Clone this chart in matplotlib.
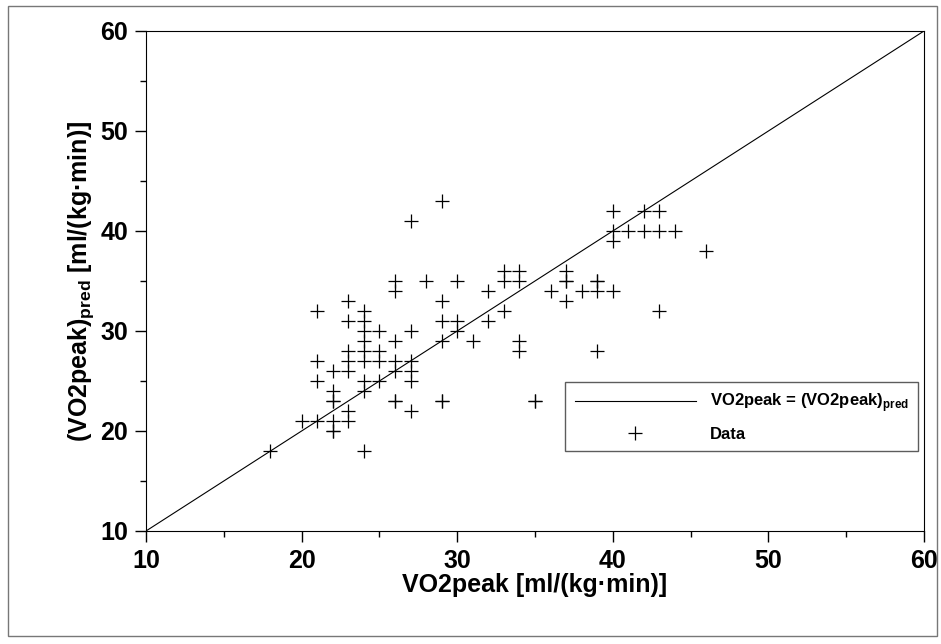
import numpy as np
import matplotlib.pyplot as plt
from matplotlib.patches import Rectangle
from matplotlib.ticker import MultipleLocator

plt.rcParams['font.family'] = ['Liberation Sans', 'DejaVu Sans']
plt.rcParams['mathtext.fontset'] = 'custom'
plt.rcParams['mathtext.bf'] = 'Liberation Sans:bold'
plt.rcParams['mathtext.rm'] = 'Liberation Sans'

vo2_meas = [18, 20,
            21, 21, 21, 21,
            22, 22, 22, 22, 22, 22, 22,
            23, 23, 23, 23, 23, 23, 23,
            24, 24, 24, 24, 24, 24, 24, 24, 24,
            25, 25, 25, 25,
            26, 26, 26, 26, 26, 26, 26,
            27, 27, 27, 27, 27, 27,
            28,
            29, 29, 29, 29, 29, 29,
            30, 30, 30,
            31,
            32, 32,
            33, 33, 33,
            34, 34, 34, 34,
            35, 35,
            36,
            37, 37, 37, 37,
            38,
            39, 39, 39, 39,
            40, 40, 40, 40,
            41,
            42, 42,
            43, 43, 43,
            44,
            46]
vo2_pred = [18, 21,
            32, 27, 25, 21,
            26, 24, 23, 23, 21, 20, 20,
            33, 31, 28, 27, 26, 22, 21,
            32, 31, 30, 29, 28, 27, 25, 24, 18,
            30, 28, 27, 25,
            35, 34, 29, 27, 26, 23, 23,
            41, 30, 27, 26, 25, 22,
            35,
            43, 33, 31, 29, 23, 23,
            35, 31, 30,
            29,
            34, 31,
            36, 35, 32,
            36, 35, 29, 28,
            23, 23,
            34,
            36, 35, 35, 33,
            34,
            35, 35, 34, 28,
            42, 40, 39, 34,
            40,
            42, 40,
            42, 40, 32,
            40,
            38]
identity = [10, 60]

W, H = 941, 644
fig = plt.figure(figsize=(W / 100, H / 100), dpi=100)
ax = fig.add_axes([146 / W, 1 - 531 / H, (924 - 146) / W, 500 / H])

ax.plot(identity, identity, color='black', lw=0.8, label=r'VO2peak = (VO2peak)$_{\mathbf{pred}}$')
ax.plot(vo2_meas, vo2_pred, ls='none', marker='+', ms=10, mew=0.9, color='black', label='Data')

ax.set_xlim(10, 60)
ax.set_ylim(10, 60)
ax.xaxis.set_major_locator(MultipleLocator(10))
ax.yaxis.set_major_locator(MultipleLocator(10))
ax.xaxis.set_minor_locator(MultipleLocator(5))
ax.yaxis.set_minor_locator(MultipleLocator(5))
ax.tick_params(which='major', direction='out', length=8, width=1, labelsize=18, pad=5)
ax.tick_params(which='minor', direction='out', length=4, width=1)
for lab in ax.get_xticklabels() + ax.get_yticklabels():
    lab.set_fontweight('bold')
for sp in ax.spines.values():
    sp.set_linewidth(0.8)

ax.set_xlabel('VO2peak [ml/(kg·min)]', fontsize=18, fontweight='bold', labelpad=0)
ax.set_ylabel(r'(VO2peak)$_{\mathbf{pred}}$ [ml/(kg·min)]', fontsize=18, fontweight='bold', labelpad=3)

leg = ax.legend(loc='lower right', bbox_to_anchor=(0.992, 0.16), borderaxespad=0,
                prop={'weight': 'bold', 'size': 12}, frameon=True, fancybox=False,
                handlelength=7.3, borderpad=0.55, labelspacing=0.75, handletextpad=0.8)
leg.get_frame().set_edgecolor('#333333')
leg.get_frame().set_linewidth(1)

fig.patches.append(Rectangle((8 / W, 8 / H), 1 - 12 / W, 1 - 14 / H, transform=fig.transFigure,
                             fill=False, edgecolor='#777777', lw=1))

fig.savefig('out.png', dpi=100)
